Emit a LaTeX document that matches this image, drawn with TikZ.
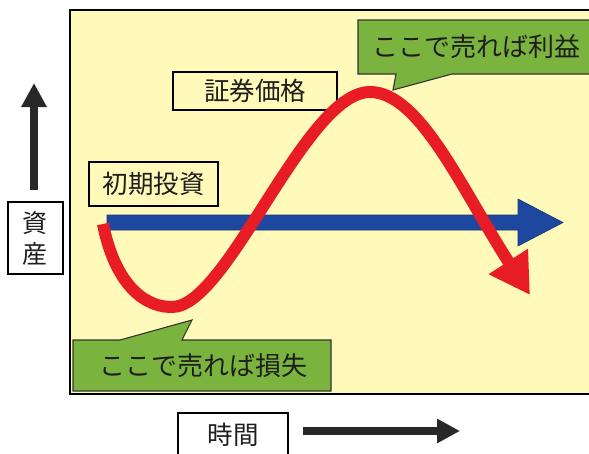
\documentclass[tikz,border=0pt]{standalone}
\usepackage{fontspec}
\newfontfamily\jp{Noto Sans CJK JP}
\usetikzlibrary{arrows.meta}
\definecolor{panel}{RGB}{255,250,185}
\definecolor{callgreen}{RGB}{122,180,62}
\definecolor{bluearr}{RGB}{30,72,160}
\definecolor{redline}{RGB}{232,28,36}
\definecolor{darkarr}{RGB}{40,40,40}
\definecolor{txt}{RGB}{30,30,30}
\begin{document}
\begin{tikzpicture}[x=1pt,y=-1pt,
  lbl/.style={draw=black, line width=1.1pt, font=\jp\fontsize{25.5}{27}\selectfont, inner sep=0pt, text=txt},
  calltext/.style={font=\jp\fontsize{26}{28}\selectfont, inner sep=0pt, text=txt},
  callout/.style={fill=callgreen, draw=black!80, line width=1.1pt, line join=miter},
  darkarrow/.style={darkarr, line width=8pt, -{Triangle[length=24pt,width=24pt]}}]
\useasboundingbox (0,0) rectangle (589,453);
\begin{scope}
\clip (0,0) rectangle (589,453);
\fill[white] (0,0) rectangle (589,453);
% panel
\draw[fill=panel, line width=1.2pt] (70,10) rectangle (600,394);
% callouts
\draw[callout] (358,20) -- (600,20) -- (600,74) -- (452,74) -- (393,90) -- (396,74) -- (358,74) -- cycle;
\node[calltext] (profit) at (476,47) {ここで売れば利益};
\draw[callout] (73,340) -- (120,340) -- (192,320) -- (182,340) -- (331,340) -- (331,391) -- (73,391) -- cycle;
\node[calltext] (loss) at (203,366) {ここで売れば損失};
% labels
\node[lbl, minimum width=164pt, minimum height=38pt] (price) at (255,91) {証券価格};
\node[lbl, minimum width=129pt, minimum height=44pt] (init) at (153.5,184) {初期投資};
\node[lbl, minimum width=55pt, minimum height=72pt, align=center, font=\jp\fontsize{25}{31}\selectfont] (asset) at (35.5,238) {資\\産};
\node[lbl, minimum width=110pt, minimum height=44pt] (time) at (233,435) {時間};
% axis arrows
\coordinate (vs) at (34,190); \coordinate (ve) at (34,83);
\draw[darkarrow] (vs) -- (ve);
\coordinate (hs) at (303,431); \coordinate (he) at (460,431);
\draw[darkarrow, -{Triangle[length=23pt,width=23pt]}] (hs) -- (he);
% blue arrow
\fill[bluearr, draw=bluearr!75!black, line width=0.6pt] (107,215) -- (518,215) -- (518,199) -- (563,222.5) -- (518,246) -- (518,230) -- (107,230) -- cycle;
% red curve
\draw[redline, line width=12pt, -{Triangle[length=40pt,width=44pt]}]
  (103,224) .. controls (113,275) and (138,307) .. (172,307)
  .. controls (228,307) and (305,92) .. (370,92)
  .. controls (420,92) and (462,190) .. (530,295);
\end{scope}
\end{tikzpicture}
\end{document}
